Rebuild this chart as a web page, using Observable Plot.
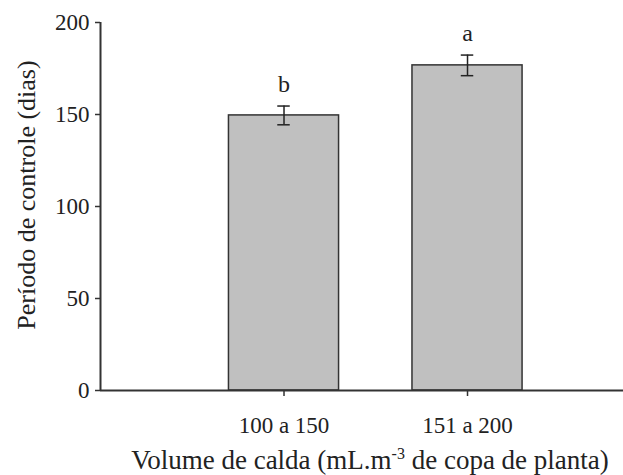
<!DOCTYPE html>
<html>
<head>
<meta charset="utf-8">
<script src="https://cdn.jsdelivr.net/npm/d3@7"></script>
<script src="https://cdn.jsdelivr.net/npm/@observablehq/plot@0.6"></script>
<style>
  html, body { margin: 0; padding: 0; background: #fff; }
  #chart { width: 623px; height: 475px; }
  #chart svg, #chart svg text { font-family: "Liberation Serif", "Times New Roman", serif !important; }
</style>
</head>
<body>
<div id="chart"></div>
<script>
const categories = ["100 a 150", "151 a 200"];
const means = [149.5, 176.7];
const errors = [5.1, 5.6];
const letters = ["b", "a"];
const yTicks = [0, 50, 100, 150, 200];

const data = categories.map((c, i) => ({
  pos: i + 1, cat: c, mean: means[i], err: errors[i], letter: letters[i]
}));

const halfBar = 0.3;
const halfCap = 0.034;

const plot = Plot.plot({
  width: 623,
  height: 475,
  marginLeft: 100,
  marginRight: 0,
  marginTop: 22,
  marginBottom: 85,
  style: { fontSize: "23px", color: "#222", background: "#fff" },
  x: { domain: [0, 2.85], axis: null },
  y: { domain: [0, 200], axis: null },
  marks: [
    Plot.rectY(data, { x1: d => d.pos - halfBar, x2: d => d.pos + halfBar, y1: 0, y2: "mean", fill: "#c0c0c0", stroke: "#333", strokeWidth: 1.5 }),
    Plot.ruleX(data, { x: "pos", y1: d => d.mean - d.err, y2: d => d.mean + d.err, stroke: "#222", strokeWidth: 1.5 }),
    Plot.ruleY(data, { y: d => d.mean + d.err, x1: d => d.pos - halfCap, x2: d => d.pos + halfCap, stroke: "#222", strokeWidth: 1.5 }),
    Plot.ruleY(data, { y: d => d.mean - d.err, x1: d => d.pos - halfCap, x2: d => d.pos + halfCap, stroke: "#222", strokeWidth: 1.5 }),
    Plot.text(data, { x: "pos", y: d => d.mean + d.err, text: "letter", dy: -22, fontSize: 24, fill: "#222" }),
    Plot.axisY({ ticks: yTicks, tickSize: 5, tickPadding: 6, label: null, stroke: "#333", strokeWidth: 1.5, fontSize: 23 }),
    Plot.axisX({ ticks: [1, 2], tickFormat: d => categories[d - 1], tickSize: 6, tickPadding: 20, label: null, stroke: "#333", strokeWidth: 1.5, fontSize: 23 }),
    Plot.ruleY([0], { stroke: "#333", strokeWidth: 2 }),
    Plot.ruleX([0], { y1: 0, y2: 200, stroke: "#333", strokeWidth: 2 })
  ]
});

document.getElementById("chart").appendChild(plot);

const svg = d3.select(plot);
const xt = svg.append("text")
  .attr("x", 370).attr("y", 469)
  .attr("text-anchor", "middle")
  .attr("font-family", "Liberation Serif")
  .attr("font-size", 27)
  .attr("fill", "#222");
xt.append("tspan").text("Volume de calda (mL.m");
xt.append("tspan").text("-3").attr("font-size", 16).attr("dy", -10);
xt.append("tspan").text(" de copa de planta)").attr("dy", 10);

svg.append("text")
  .attr("transform", "translate(35,195) rotate(-90)")
  .attr("text-anchor", "middle")
  .attr("font-family", "Liberation Serif")
  .attr("font-size", 26)
  .attr("fill", "#222")
  .text("Período de controle (dias)");
</script>
</body>
</html>
